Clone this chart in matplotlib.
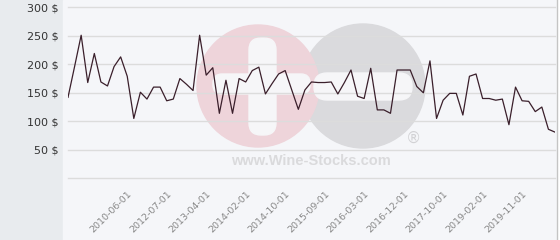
import matplotlib
matplotlib.use('Agg')
import matplotlib.pyplot as plt
from matplotlib.patches import Rectangle, Circle, FancyBboxPatch

# prices, one per sale date
prices = [142, 196, 251, 168, 219, 169, 162, 196, 213, 179,
          105, 151, 139, 160, 160, 136, 139, 175, 165, 154,
          251, 181, 194, 114, 172, 114, 175, 169, 189, 195,
          148, 166, 183, 189, 155, 121, 155, 169, 168, 168,
          169, 148, 168, 190, 144, 140, 193, 120, 120, 114,
          190, 190, 190, 161, 150, 206, 105, 137, 149, 149,
          111, 179, 183, 140, 140, 137, 139, 94, 160, 136,
          135, 117, 125, 86, 81]
tick_idx = [9, 15, 21, 27, 33, 39, 45, 51, 57, 63, 69]
tick_labels = ['2010-06-01', '2012-07-01', '2013-04-01', '2014-02-01',
               '2014-10-01', '2015-09-01', '2016-03-01', '2016-12-01',
               '2017-10-01', '2019-02-01', '2019-11-01']
y_ticks = [0, 50, 100, 150, 200, 250, 300]
y_labels = ['', '50 $', '100 $', '150 $', '200 $', '250 $', '300 $']

fig = plt.figure(figsize=(5.6, 2.4), dpi=100)

# background + watermark, in pixel units
bg = fig.add_axes([0, 0, 1, 1], zorder=0)
bg.set_xlim(0, 560)
bg.set_ylim(240, 0)
bg.axis('off')
bg.add_patch(Rectangle((0, 0), 63, 240, color='#e8ebee'))
bg.add_patch(Rectangle((63, 0), 494, 240, color='#f5f6f9'))
bg.add_patch(Rectangle((557, 0), 3, 240, color='#ffffff'))
bg.plot([557, 557], [0, 240], color='#c4c4c4', lw=1)

bg.add_patch(Circle((363, 86), 62, color='#dadadd'))
bg.add_patch(Circle((258, 86), 61, color='#eed4da'))
bg.add_patch(FancyBboxPatch((249, 38), 27, 97, boxstyle='round,pad=0,rounding_size=12',
                            color='#f6f6f8'))
bg.add_patch(FancyBboxPatch((213, 74), 97, 20, boxstyle='round,pad=0,rounding_size=9',
                            color='#f6f6f8'))
bg.add_patch(FancyBboxPatch((314, 73), 98, 27, boxstyle='round,pad=0,rounding_size=13',
                            color='#f6f6f8'))
bg.text(413, 138, '®', color='#d2d2d5', fontsize=11, ha='center', va='center')
bg.text(311, 161, 'www.Wine-Stocks.com', color='#dadadc', fontsize=10.5,
        fontweight='bold', family='Liberation Sans', ha='center', va='center')

# the chart itself
ax = fig.add_axes([68 / 560, 1 - 178.3 / 240, 487 / 560, 171 / 240], zorder=1)
ax.patch.set_alpha(0)
ax.plot(range(len(prices)), prices, color='#3a1f2b', lw=0.9)
ax.set_xlim(0, len(prices) - 1)
ax.set_ylim(0, 300)
ax.set_yticks(y_ticks)
ax.set_yticklabels(y_labels)
ax.set_xticks(tick_idx)
ax.set_xticklabels(tick_labels)
ax.grid(axis='y', color='#dcdcdc', lw=1)
for gl in ax.get_ygridlines():
    gl.set_clip_on(False)
ax.set_axisbelow(True)
for s in ax.spines.values():
    s.set_visible(False)
ax.tick_params(axis='y', length=0, pad=6.5, labelsize=8, labelcolor='#333333')
ax.tick_params(axis='x', length=0, pad=8, labelsize=6.8, labelcolor='#888888')
plt.setp(ax.get_xticklabels(), rotation=45, ha='right', rotation_mode='anchor')

fig.savefig('out.png', dpi=100)
